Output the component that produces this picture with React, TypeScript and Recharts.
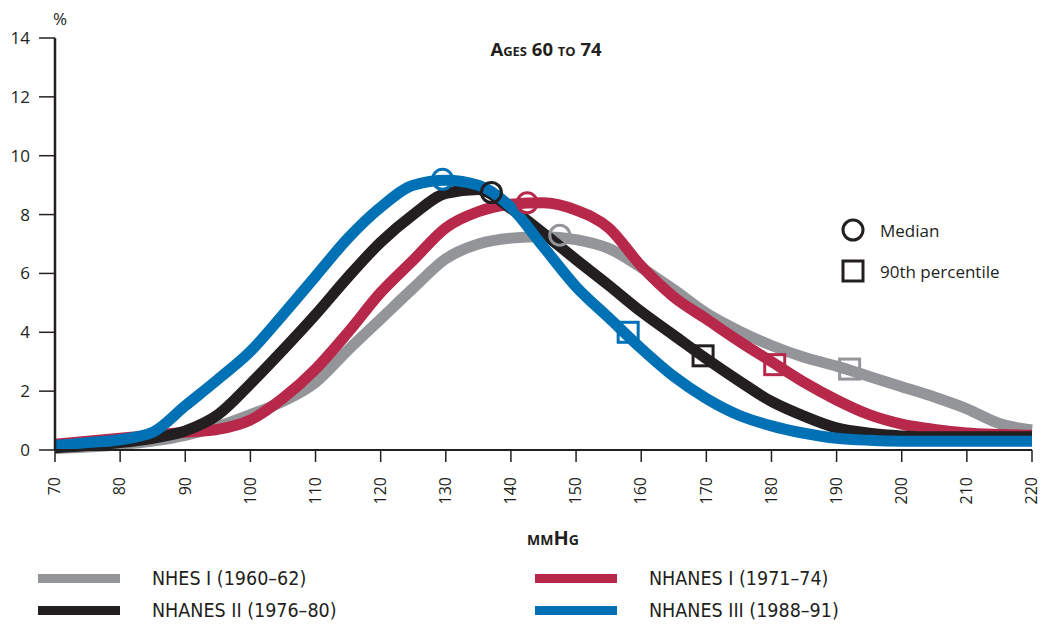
import React from 'react';
import { ComposedChart, Line, Scatter, XAxis, YAxis } from 'recharts';

// systolic pressure grid (mmHg)
const xs = [70, 75, 80, 85, 90, 95, 100, 105, 110, 115, 120, 125, 130, 135, 140, 145, 150, 155, 160, 165, 170, 175, 180, 185, 190, 195, 200, 205, 210, 215, 220];

// % of population per survey
const nhesI = [0.05, 0.1, 0.18, 0.3, 0.5, 0.8, 1.2, 1.65, 2.3, 3.4, 4.45, 5.5, 6.5, 7.0, 7.2, 7.25, 7.15, 6.85, 6.2, 5.45, 4.65, 4.05, 3.55, 3.15, 2.85, 2.5, 2.15, 1.8, 1.4, 0.9, 0.68];
const nhanesI = [0.2, 0.3, 0.4, 0.5, 0.6, 0.7, 1.02, 1.76, 2.75, 4.0, 5.35, 6.45, 7.55, 8.1, 8.35, 8.4, 8.15, 7.55, 6.25, 5.2, 4.45, 3.7, 3.0, 2.3, 1.7, 1.2, 0.88, 0.7, 0.58, 0.53, 0.5];
const nhanesII = [0.08, 0.15, 0.25, 0.4, 0.65, 1.2, 2.25, 3.4, 4.6, 5.88, 7.06, 8.0, 8.72, 8.85, 8.2, 7.36, 6.47, 5.6, 4.7, 3.9, 3.1, 2.35, 1.65, 1.15, 0.75, 0.57, 0.48, 0.45, 0.45, 0.45, 0.45];
const nhanesIII = [0.15, 0.25, 0.35, 0.6, 1.5, 2.4, 3.35, 4.6, 5.9, 7.2, 8.25, 9.0, 9.17, 9.0, 8.25, 6.9, 5.55, 4.5, 3.45, 2.5, 1.75, 1.18, 0.82, 0.57, 0.4, 0.33, 0.3, 0.3, 0.3, 0.3, 0.3];

// markers: nhesI, nhanesI, nhanesII, nhanesIII
const medianX = [147.5, 142.5, 137, 129.5];
const medianY = [7.3, 8.4, 8.75, 9.2];
const p90X = [192, 180.5, 169.5, 158];
const p90Y = [2.75, 2.9, 3.2, 4.0];

const xTicks = [70, 80, 90, 100, 110, 120, 130, 140, 150, 160, 170, 180, 190, 200, 210, 220];
const yTicks = [0, 2, 4, 6, 8, 10, 12, 14];

const seriesKeys = ['nhesI', 'nhanesI', 'nhanesII', 'nhanesIII'];
const seriesNames = ['NHES I (1960–62)', 'NHANES I (1971–74)', 'NHANES II (1976–80)', 'NHANES III (1988–91)'];
const seriesColors = ['#939598', '#B7284A', '#231F20', '#0071B5'];

const rows = xs.map((x, i) => ({
  x,
  nhesI: nhesI[i],
  nhanesI: nhanesI[i],
  nhanesII: nhanesII[i],
  nhanesIII: nhanesIII[i],
}));

const FONT = '"Open Sans", "DejaVu Sans", sans-serif';
const NARROW = '"Liberation Sans Narrow", "DejaVu Sans Condensed", "Open Sans", sans-serif';
const INK = '#231F20';

const XTick = ({ x, y, payload }: any) => {
  const ty = y + 13;
  return (
    <text
      x={x}
      y={ty}
      transform={`rotate(-90, ${x}, ${ty})`}
      textAnchor="end"
      dy="0.33em"
      fill={INK}
      fontSize={16}
      fontFamily={FONT}
    >
      {payload.value}
    </text>
  );
};

const circleShape = (color: string) => (props: any) => (
  <circle cx={props.cx} cy={props.cy} r={10} fill="none" stroke={color} strokeWidth={3} />
);

const squareShape = (color: string) => (props: any) => (
  <rect x={props.cx - 10} y={props.cy - 10} width={20} height={20} fill="none" stroke={color} strokeWidth={3} />
);

const legendRows = [
  [0, 1],
  [2, 3],
];

export default function App() {
  return (
    <div style={{ position: 'absolute', left: 0, top: 0, width: 1042, height: 626, background: '#fff', fontFamily: FONT }}>
      <ComposedChart
        width={1042}
        height={626}
        data={rows}
        margin={{ top: 38, right: 10, bottom: 116, left: 0 }}
        style={{ overflow: 'visible' }}
      >
        <XAxis
          dataKey="x"
          type="number"
          domain={[70, 220]}
          ticks={xTicks}
          interval={0}
          tickSize={12}
          height={60}
          axisLine={{ stroke: INK, strokeWidth: 2 }}
          tickLine={{ stroke: INK, strokeWidth: 1.5 }}
          tick={<XTick />}
        />
        <YAxis
          type="number"
          domain={[0, 14]}
          ticks={yTicks}
          interval={0}
          width={55}
          tickSize={16}
          tickMargin={9}
          axisLine={{ stroke: INK, strokeWidth: 2.5 }}
          tickLine={{ stroke: INK, strokeWidth: 1.5 }}
          tick={{ fill: INK, fontSize: 17, fontFamily: FONT }}
        />
        {seriesKeys.map((key, i) => (
          <React.Fragment key={key}>
            <Line
              dataKey={key}
              type="monotone"
              stroke={seriesColors[i]}
              strokeWidth={11}
              strokeLinecap="butt"
              dot={false}
              activeDot={false}
              isAnimationActive={false}
            />
            <Scatter
              data={[{ x: medianX[i], y: medianY[i] }]}
              dataKey="y"
              shape={circleShape(seriesColors[i])}
              isAnimationActive={false}
            />
            <Scatter
              data={[{ x: p90X[i], y: p90Y[i] }]}
              dataKey="y"
              shape={squareShape(seriesColors[i])}
              isAnimationActive={false}
            />
          </React.Fragment>
        ))}
      </ComposedChart>

      {/* axis captions and title */}
      <div style={{ position: 'absolute', left: 53, top: 7, fontSize: 17, color: INK }}>%</div>
      <div
        style={{
          position: 'absolute',
          left: 446,
          width: 200,
          top: 36,
          textAlign: 'center',
          fontSize: 18.5,
          fontWeight: 700,
          fontVariant: 'small-caps',
          color: INK,
        }}
      >
        Ages 60 to 74
      </div>
      <div
        style={{
          position: 'absolute',
          left: 453,
          width: 200,
          top: 524,
          textAlign: 'center',
          fontSize: 20,
          fontWeight: 700,
          fontVariant: 'small-caps',
          color: INK,
        }}
      >
        mmHg
      </div>

      {/* marker legend */}
      <div style={{ position: 'absolute', left: 840, top: 217, fontSize: 17, color: INK }}>
        <div style={{ display: 'flex', alignItems: 'center', height: 26 }}>
          <svg width={30} height={26}>
            <circle cx={13} cy={13} r={10} fill="none" stroke={INK} strokeWidth={3} />
          </svg>
          <span style={{ marginLeft: 10 }}>Median</span>
        </div>
        <div style={{ display: 'flex', alignItems: 'center', height: 26, marginTop: 15 }}>
          <svg width={30} height={26}>
            <rect x={3} y={3} width={20} height={20} fill="none" stroke={INK} strokeWidth={3} />
          </svg>
          <span style={{ marginLeft: 10 }}>90th percentile</span>
        </div>
      </div>

      {/* series legend */}
      {legendRows.map((row, r) =>
        row.map((idx, c) => (
          <div
            key={idx}
            style={{
              position: 'absolute',
              left: c === 0 ? 38 : 535,
              top: 565 + r * 32,
              display: 'flex',
              alignItems: 'center',
              height: 26,
            }}
          >
            <div style={{ width: 82, height: 9, background: seriesColors[idx] }} />
            <span style={{ marginLeft: 32, fontFamily: NARROW, fontSize: 19.5, color: INK }}>{seriesNames[idx]}</span>
          </div>
        ))
      )}
    </div>
  );
}
